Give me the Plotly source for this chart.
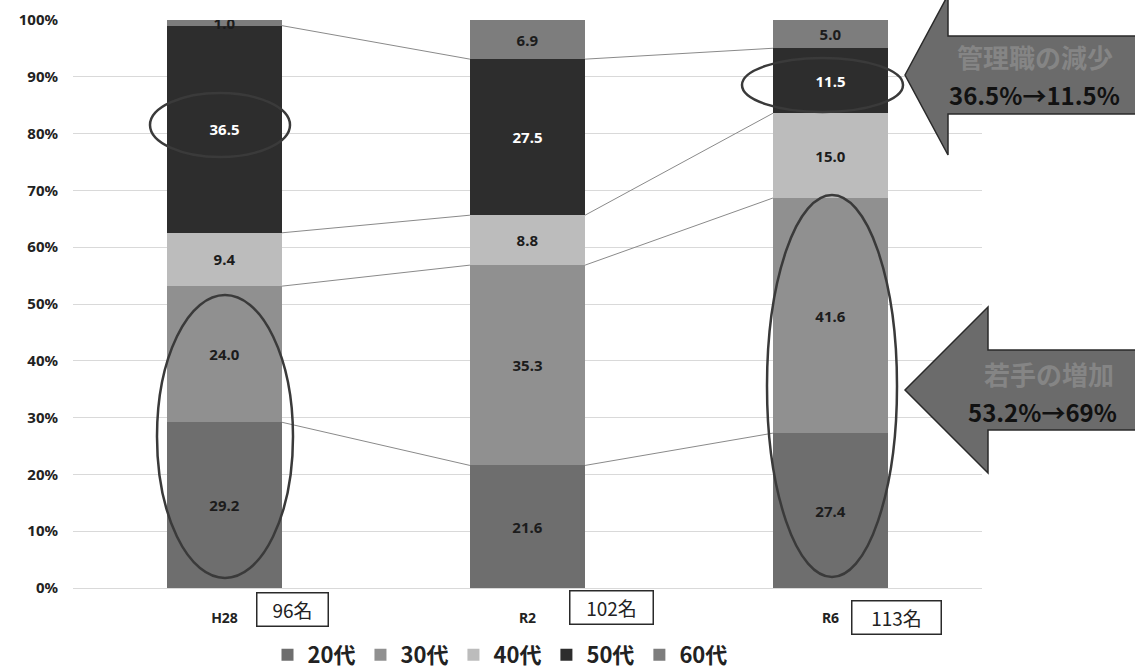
import plotly.graph_objects as go
import numpy as np

# ---------------- data ----------------
categories = ["H28", "R2", "R6"]
headcounts = ["96名", "102名", "113名"]
series_names = ["20代", "30代", "40代", "50代", "60代"]
v20 = [29.2, 21.6, 27.4]
v30 = [24.0, 35.3, 41.6]
v40 = [9.4, 8.8, 15.0]
v50 = [36.5, 27.5, 11.5]
v60 = [1.0, 6.9, 5.0]
y_ticks = [0, 10, 20, 30, 40, 50, 60, 70, 80, 90, 100]

# ---------------- styles ----------------
colors = ["#6e6e6e", "#909090", "#bcbcbc", "#2d2d2d", "#7d7d7d"]
text_colors = ["#1c1c1c", "#1c1c1c", "#1c1c1c", "#ffffff", "#1c1c1c"]
W, H = 1135, 669
L, R, T, B = 73, 982, 20, 588          # plot area in pixels
BAR_W = 0.38
xpos = list(range(len(categories)))

def px(x):   # pixel -> paper x
    return (x - L) / (R - L)

def py(y):   # pixel -> paper y
    return (B - y) / (B - T)

fig = go.Figure()
all_vals = [v20, v30, v40, v50, v60]
for name, vals, c, tc in zip(series_names, all_vals, colors, text_colors):
    fig.add_trace(go.Bar(
        x=xpos, y=vals, name=name, width=BAR_W,
        marker=dict(color=c, line=dict(width=0)),
        text=[f"{v:.1f}" for v in vals], textposition="inside",
        insidetextanchor="middle",
        textfont=dict(color=tc, size=15, family="Noto Sans", weight="bold"),
        hoverinfo="skip",
    ))

# series (connector) lines between bar boundaries
arr = np.array(all_vals)
totals = arr.sum(axis=0)
cum = np.cumsum(arr, axis=0) / totals * 100
for level in cum[:-1]:
    for i in range(len(categories) - 1):
        fig.add_trace(go.Scatter(
            x=[xpos[i] + BAR_W / 2, xpos[i + 1] - BAR_W / 2],
            y=[level[i], level[i + 1]], mode="lines",
            line=dict(color="#8a8a8a", width=1), showlegend=False,
            hoverinfo="skip"))

shapes = []
# ellipses (highlight marks)
ell = [  # x0,y0,x1,y1 in pixels
    (150, 93, 290, 157),
    (157, 295, 293, 578),
    (742, 58, 903, 112),
    (767, 195, 897, 577),
]
for x0, y0, x1, y1 in ell:
    shapes.append(dict(type="circle", xref="paper", yref="paper",
                       x0=px(x0), x1=px(x1), y0=py(y1), y1=py(y0),
                       line=dict(color="#3a3a3a", width=2.5)))

def arrow(tipx, tipy, headx, half_head, half_shaft, endx):
    pts = [(tipx, tipy), (headx, tipy - half_head), (headx, tipy - half_shaft),
           (endx, tipy - half_shaft), (endx, tipy + half_shaft),
           (headx, tipy + half_shaft), (headx, tipy + half_head)]
    path = "M " + " L ".join(f"{px(a):.5f},{py(b):.5f}" for a, b in pts) + " Z"
    return dict(type="path", xref="paper", yref="paper", path=path,
                fillcolor="#6b6b6b", line=dict(color="#2a2a2a", width=1.5))

shapes.append(arrow(905, 75, 948, 80, 39, 1140))
shapes.append(arrow(905, 390, 988, 83, 40, 1140))

def note(text, x, y, size, color, bold=False, family="Noto Sans CJK JP", **kw):
    d = dict(text=text, x=px(x), y=py(y), xref="paper", yref="paper",
             xanchor="center", yanchor="middle", showarrow=False,
             font=dict(size=size, color=color, family=family,
                       weight="bold" if bold else "normal"))
    d.update(kw)
    return d

annotations = [
    note("管理職の減少", 1035, 56, 26, "#858585", bold=True),
    note("36.5%→11.5%", 1034, 94, 24, "#111111", bold=True),
    note("若手の増加", 1049, 373, 26, "#858585", bold=True),
    note("53.2%→69%", 1042, 411, 24, "#111111", bold=True),
]
# headcount boxes
box_pos = [(292, 609, 68), (611, 607, 80), (896, 617, 86)]
for (bx, by, bw), hc in zip(box_pos, headcounts):
    annotations.append(note(hc, bx, by, 19, "#222222",
                            width=bw, height=30, borderpad=1,
                            bordercolor="#2a2a2a", borderwidth=1.5,
                            bgcolor="#ffffff"))

fig.update_layout(
    width=W, height=H,
    margin=dict(l=L, r=W - R, t=T, b=H - B, autoexpand=False),
    barmode="stack", barnorm="percent",
    paper_bgcolor="#ffffff", plot_bgcolor="#ffffff",
    uniformtext=dict(minsize=15, mode="show"),
    shapes=shapes, annotations=annotations,
    legend=dict(orientation="h", xref="container", yref="container",
                x=500 / W, xanchor="center", y=1 - 655 / H, yanchor="middle",
                font=dict(size=22, color="#222222", family="Noto Sans CJK JP", weight="bold"),
                itemwidth=30, traceorder="normal"),
    font=dict(family="Noto Sans", color="#222222"),
)
fig.update_xaxes(
    range=[-0.5, 2.5], tickvals=xpos, ticktext=categories,
    showgrid=False, zeroline=False, showline=True, linecolor="#d9d9d9",
    ticks="", ticklabelstandoff=17, automargin=False,
    tickfont=dict(size=14, color="#222222", family="Noto Sans", weight="bold"),
)
fig.update_yaxes(
    range=[0, 100], tickvals=y_ticks, ticktext=[f"{t}%" for t in y_ticks],
    showgrid=True, gridcolor="#d9d9d9", gridwidth=1, zeroline=False,
    ticklabelstandoff=14, automargin=False,
    tickfont=dict(size=15, color="#222222", family="Noto Sans", weight="bold"),
)

fig.write_html("out.html", config={"displayModeBar": False},
               post_script="document.body.style.margin='0';document.body.style.overflow='hidden';")
